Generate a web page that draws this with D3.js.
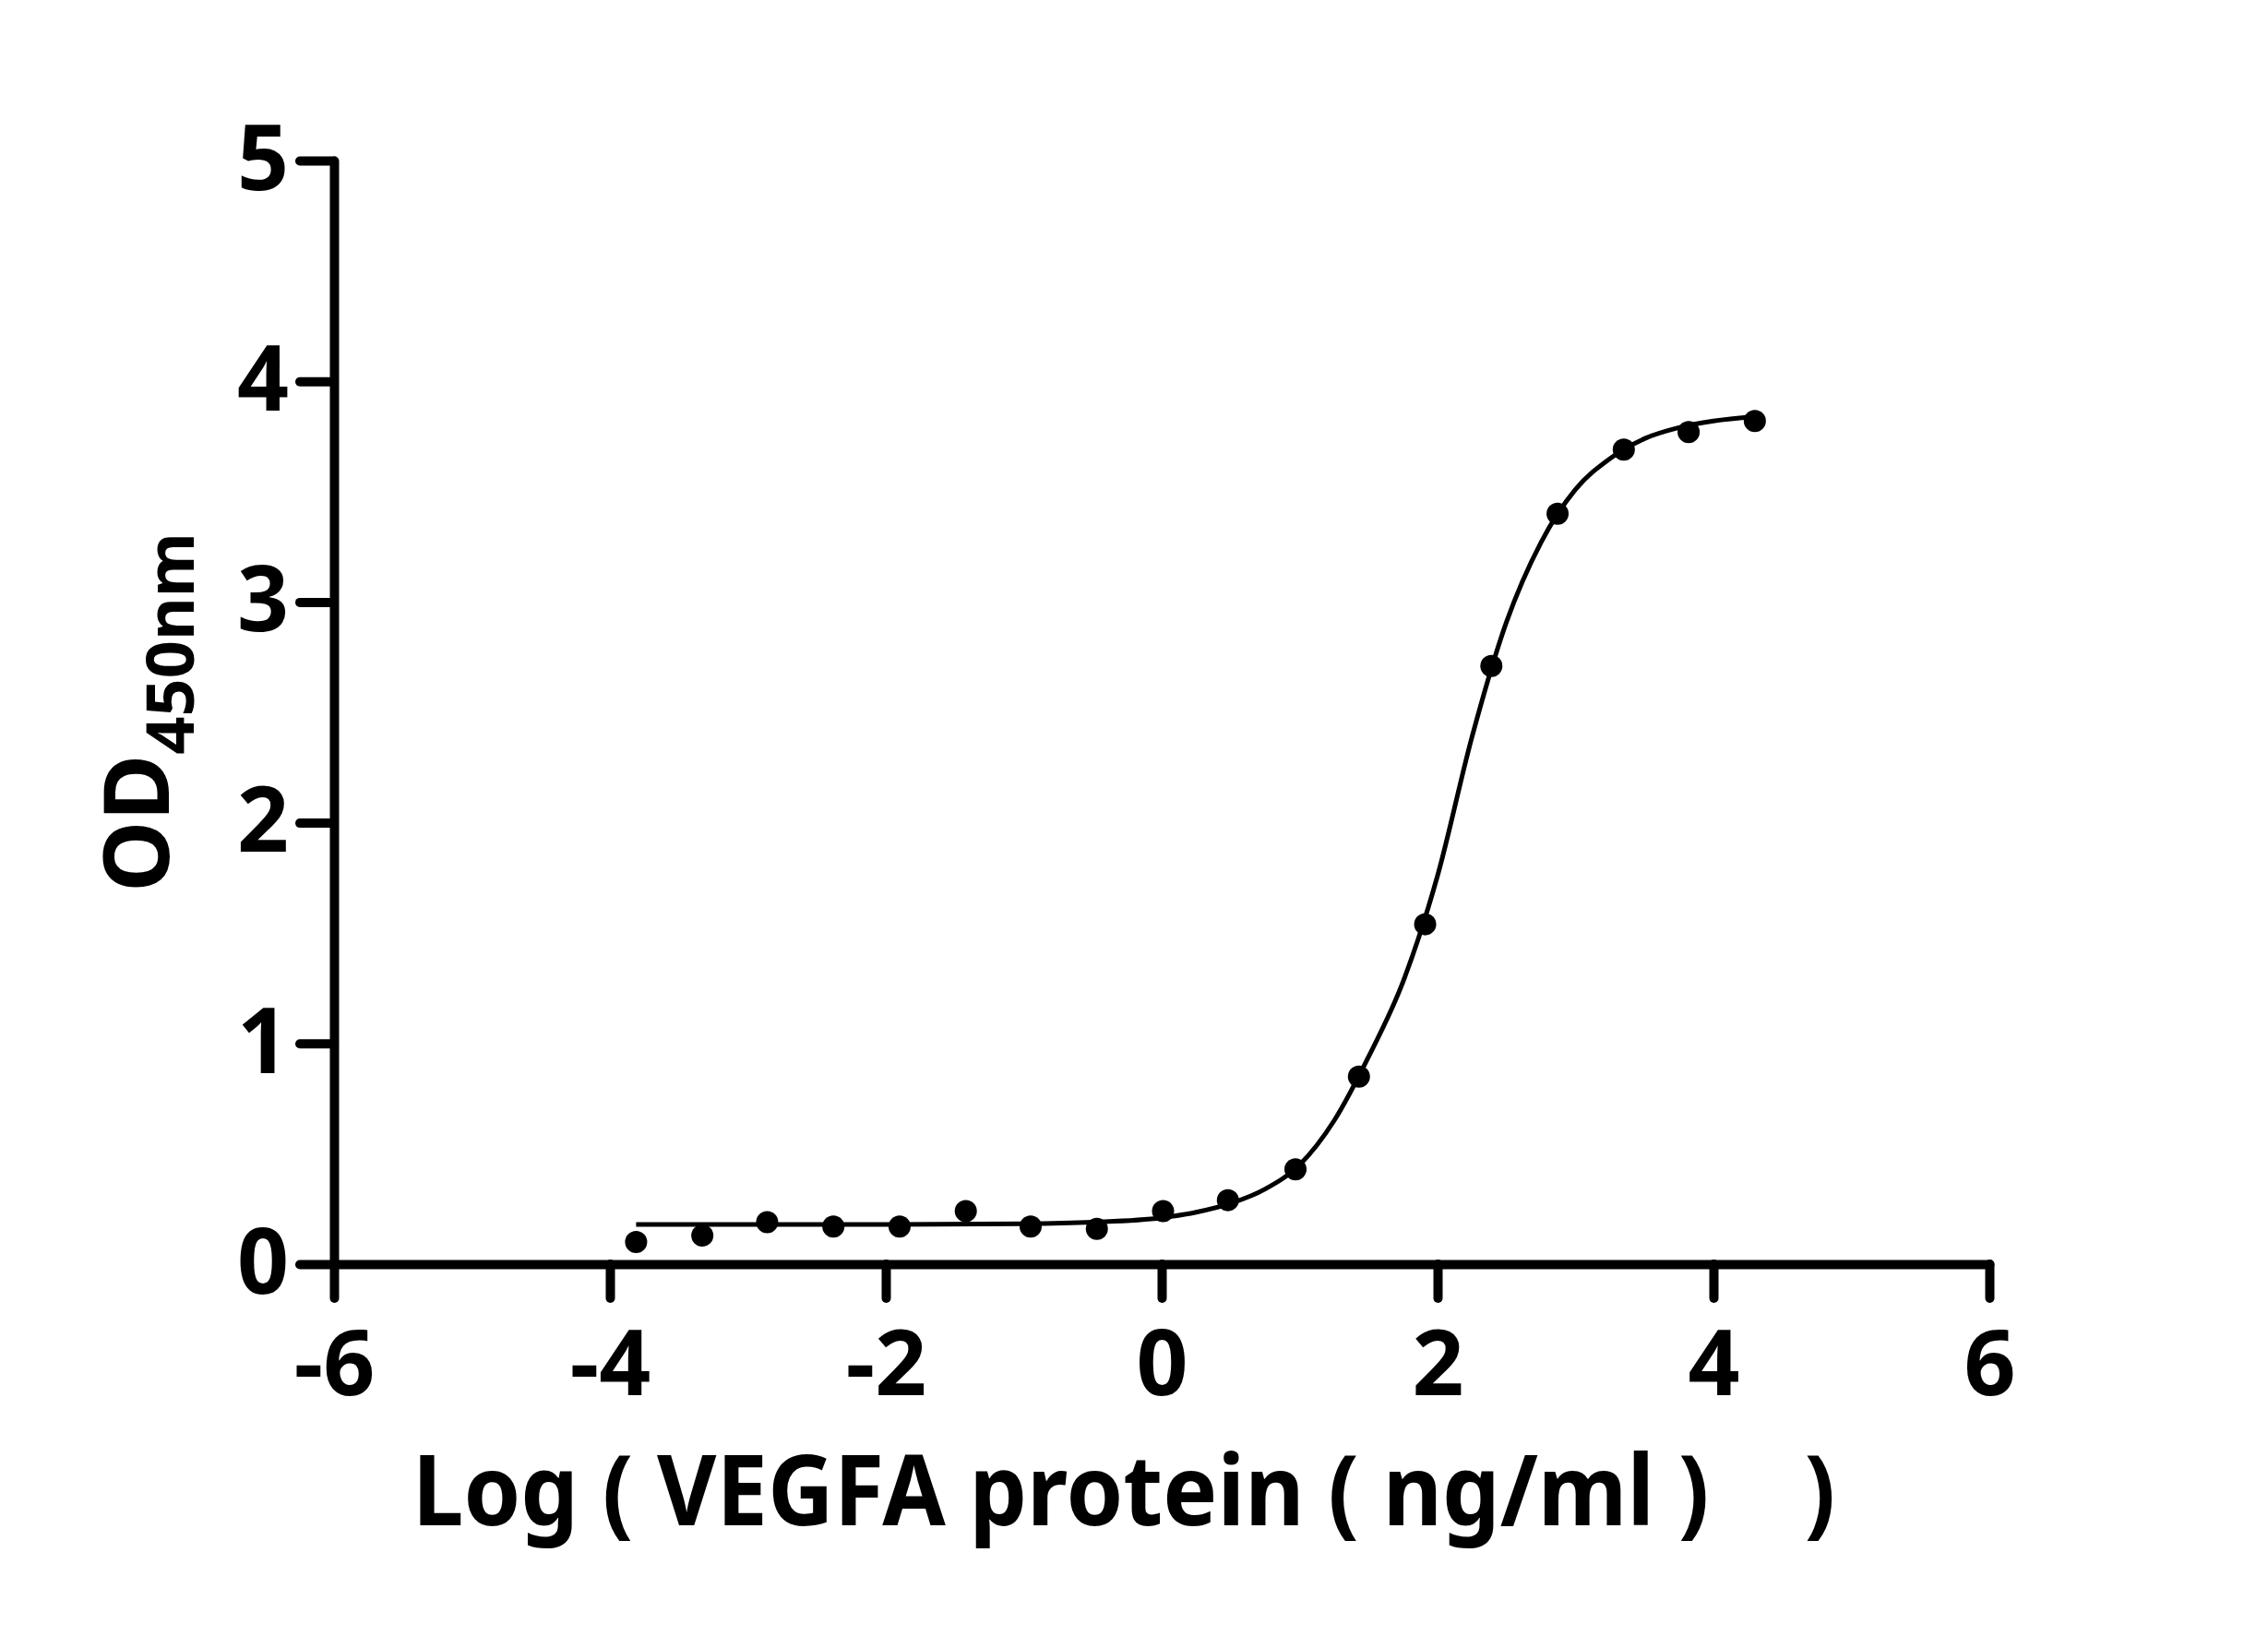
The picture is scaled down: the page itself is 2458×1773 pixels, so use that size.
<!DOCTYPE html>
<html>
<head>
<meta charset="utf-8">
<script src="https://cdn.jsdelivr.net/npm/d3@7"></script>
<style>
body { margin: 0; background: #fff; }
svg text { font-family: "Noto Sans", "Open Sans", sans-serif; font-weight: bold; fill: #000; }
</style>
</head>
<body>
<script>
/* Data
***********************************************************************/
// log10 concentration of each well (ng/ml)
var logConc = [-3.81, -3.33, -2.86, -2.38, -1.90, -1.42, -0.95, -0.47, 0.01,
	0.48, 0.97, 1.43, 1.91, 2.39, 2.87, 3.35, 3.82, 4.30];
// measured OD450
var odValues = [0.10, 0.13, 0.19, 0.17, 0.17, 0.24, 0.17, 0.16, 0.24,
	0.29, 0.43, 0.85, 1.54, 2.71, 3.40, 3.69, 3.77, 3.82];

// fitted curve
var curveX = [-3.81, -3.0, -2.0, -1.0, -0.5, 0.0, 0.25, 0.5, 0.75, 1.0, 1.25,
	1.5, 1.75, 2.0, 2.25, 2.5, 2.75, 3.0, 3.25, 3.5, 3.75, 4.0, 4.30];
var curveY = [0.18, 0.18, 0.18, 0.183, 0.19, 0.21, 0.235, 0.275, 0.34, 0.45, 0.65,
	0.94, 1.28, 1.76, 2.39, 2.91, 3.27, 3.51, 3.65, 3.74, 3.79, 3.82, 3.84];

var xTicks = [-6, -4, -2, 0, 2, 4, 6];
var yTicks = [0, 1, 2, 3, 4, 5];

var xTitle = "Log ( VEGFA protein ( ng/ml )    )";
var yTitleMain = "OD";
var yTitleSub = "450nm";


/* Setup SVG
***********************************************************************/
var svgW = 2458;
var svgH = 1773;

var svg = d3.select("body").append("svg")
	.attr("width", svgW)
	.attr("height", svgH);

var xScale = d3.scaleLinear()
	.domain([-6, 6])
	.range([362, 2156]);
var yScale = d3.scaleLinear()
	.domain([0, 5])
	.range([1370, 174]);

var axisW = 10;
var tickFont = "98px";


/* Axes
***********************************************************************/
var xAxis = svg.append("g")
	.attr("transform", "translate(0," + yScale(0) + ")")
	.call(d3.axisBottom(xScale)
		.tickValues(xTicks)
		.tickFormat(function(d) { return String(d); })
		.tickSize(37)
		.tickSizeOuter(0)
		.tickPadding(35));

var yAxis = svg.append("g")
	.attr("transform", "translate(" + xScale(-6) + ",0)")
	.call(d3.axisLeft(yScale)
		.tickValues(yTicks)
		.tickFormat(function(d) { return String(d); })
		.tickSize(37)
		.tickSizeOuter(0)
		.tickPadding(12));

[xAxis, yAxis].forEach(function(ax) {
	ax.selectAll("path, line")
		.attr("stroke", "#000")
		.attr("stroke-width", axisW)
		.attr("stroke-linecap", "round");
	ax.selectAll("text")
		.attr("fill", "#000")
		.style("font-size", tickFont)
		.style("font-family", "\"Noto Sans\", sans-serif")
		.style("font-weight", "bold");
});


/* Fitted curve and points
***********************************************************************/
var curveData = curveX.map(function(x, i) { return [x, curveY[i]]; });

var line = d3.line()
	.x(function(d) { return xScale(d[0]); })
	.y(function(d) { return yScale(d[1]); })
	.curve(d3.curveMonotoneX);

svg.append("path")
	.attr("d", line(curveData))
	.attr("fill", "none")
	.attr("stroke", "#000")
	.attr("stroke-width", 5);

svg.append("g")
	.selectAll("circle")
	.data(logConc)
	.join("circle")
	.attr("cx", function(d) { return xScale(d); })
	.attr("cy", function(d, i) { return yScale(odValues[i]); })
	.attr("r", 12)
	.attr("fill", "#000");


/* Titles
***********************************************************************/
svg.append("text")
	.attr("x", 447)
	.attr("y", 1653)
	.attr("textLength", 1542)
	.attr("lengthAdjust", "spacingAndGlyphs")
	.style("font-size", "106px")
	.style("white-space", "pre")
	.text(xTitle);

var yt = svg.append("text")
	.attr("transform", "translate(183," + ((yScale(0) + yScale(5)) / 2) + ") rotate(-90)")
	.attr("text-anchor", "middle");
yt.append("tspan")
	.style("font-size", "98px")
	.text(yTitleMain);
yt.append("tspan")
	.attr("dy", 27)
	.style("font-size", "72px")
	.text(yTitleSub);
</script>
</body>
</html>
